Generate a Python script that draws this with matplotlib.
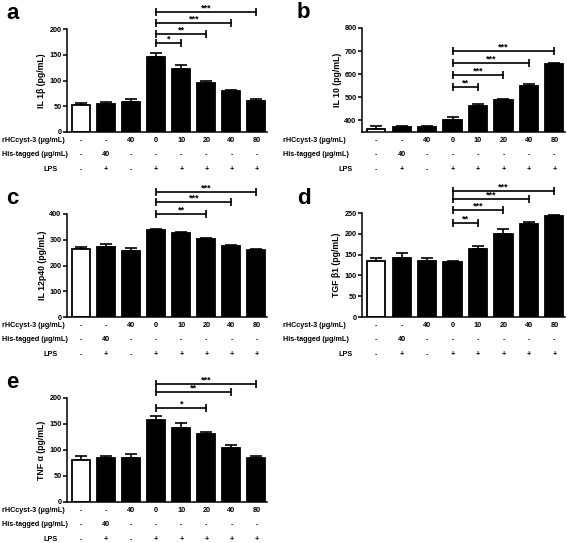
import numpy as np
import matplotlib
matplotlib.use('Agg')
import matplotlib.pyplot as plt

plt.rcParams['font.family'] = ['Liberation Sans', 'DejaVu Sans']
plt.rcParams['font.weight'] = 'bold'

# groups (8 bars per panel)
rhc_row = ['-', '-', '40', '0', '10', '20', '40', '80']
his_row = ['-', '40', '-', '-', '-', '-', '-', '-']
lps_row = ['-', '+', '-', '+', '+', '+', '+', '+']
row_names = ['rHCcyst-3 (\u00b5g/mL)', 'His-tagged (\u00b5g/mL)', 'LPS']

il1b = [52, 54, 59, 145, 123, 96, 79, 60]
il1b_err = [5, 4, 5, 9, 7, 4, 3, 4]
il10 = [362, 370, 370, 400, 462, 487, 548, 645]
il10_err = [12, 5, 5, 13, 8, 5, 8, 5]
il12 = [265, 273, 257, 338, 325, 302, 277, 262]
il12_err = [7, 9, 12, 5, 4, 4, 3, 4]
tgfb = [135, 143, 134, 132, 163, 200, 224, 243]
tgfb_err = [8, 10, 7, 3, 8, 12, 4, 3]
tnfa = [81, 85, 85, 157, 143, 131, 104, 85]
tnfa_err = [7, 4, 8, 9, 9, 4, 5, 3]

# significance brackets: (end index, y level, stars), all start at bar 3
sig_a = [(4, 173, '*'), (5, 190, '**'), (6, 212, '***'), (7, 233, '***')]
sig_b = [(4, 543, '**'), (5, 596, '***'), (6, 650, '***'), (7, 700, '***')]
sig_c = [(5, 400, '**'), (6, 447, '***'), (7, 486, '***')]
sig_d = [(4, 226, '**'), (5, 257, '***'), (6, 284, '***'), (7, 303, '***')]
sig_e = [(5, 181, '*'), (6, 212, '**'), (7, 227, '***')]

W, H = 567, 543
fig = plt.figure(figsize=(W / 100, H / 100), dpi=100)


def px_axes(x0, y0, x1, y1):
    return fig.add_axes([x0 / W, 1 - y1 / H, (x1 - x0) / W, (y1 - y0) / H])


def panel(ax, vals, errs, ylabel, ylim, yticks, sigs, letter, letter_xy, label_dx):
    x = np.arange(len(vals))
    colors = ['white'] + ['black'] * (len(vals) - 1)
    ax.errorbar(x, vals, yerr=[np.zeros(len(vals)), errs], fmt='none', ecolor='black',
                elinewidth=1.2, capsize=4.2, capthick=1.2, zorder=1)
    ax.bar(x, vals, width=0.72, color=colors, edgecolor='black', linewidth=1.3, zorder=2)
    ax.set_xlim(-0.56, 7.42)
    ax.set_ylim(*ylim)
    ax.set_yticks(yticks)
    ax.set_xticks([])
    ax.spines['top'].set_visible(False)
    ax.spines['right'].set_visible(False)
    ax.spines['left'].set_linewidth(1.1)
    ax.spines['bottom'].set_linewidth(1.1)
    ax.tick_params(axis='y', labelsize=5.2, length=3, width=1.1, pad=1)
    ax.set_ylabel(ylabel, fontsize=6.3, fontweight='bold', labelpad=2)

    for j, lev, stars in sigs:
        ax.plot([3, j], [lev, lev], color='black', lw=1.2, clip_on=False,
                marker='|', markersize=6, markeredgewidth=1.2)
        ax.annotate(stars, ((3 + j) / 2, lev), xytext=(0, -0.3), textcoords='offset points',
                    ha='center', va='bottom', fontsize=6.5, annotation_clip=False)

    # table under the axis
    for r, row in enumerate([rhc_row, his_row, lps_row]):
        dy = -(6 + 10.5 * r)
        for xi, s in enumerate(row):
            ax.annotate(s, (xi, 0), xycoords=('data', 'axes fraction'), xytext=(0, dy),
                        textcoords='offset points', ha='center', va='center', fontsize=5.2,
                        annotation_clip=False)
        if r < 2:
            ax.annotate(row_names[r], (0, 0), xycoords='axes fraction', xytext=(label_dx, dy),
                        textcoords='offset points', ha='left', va='center', fontsize=5.2,
                        annotation_clip=False)
        else:
            ax.annotate(row_names[r], (0, 0), xycoords='axes fraction', xytext=(-11.5, dy),
                        textcoords='offset points', ha='center', va='center', fontsize=5.2,
                        annotation_clip=False)

    fig.text(letter_xy[0] / W, 1 - letter_xy[1] / H, letter, fontsize=16,
             fontweight='bold', ha='left', va='baseline')


ax_a = px_axes(67, 29, 267, 132)
panel(ax_a, il1b, il1b_err, 'IL 1\u03b2 (pg/mL)', (0, 200), range(0, 201, 50),
      sig_a, 'a', (6, 19), -46.5)

ax_b = px_axes(362, 28, 565, 132)
panel(ax_b, il10, il10_err, 'IL 10 (pg/mL)', (350, 800), range(400, 801, 100),
      sig_b, 'b', (297, 18), -57)

ax_c = px_axes(67, 214, 267, 317)
panel(ax_c, il12, il12_err, 'IL 12p40 (pg/mL)', (0, 400), range(0, 401, 100),
      sig_c, 'c', (6, 204), -46.5)

ax_d = px_axes(362, 213, 565, 317)
panel(ax_d, tgfb, tgfb_err, 'TGF \u03b21 (pg/mL)', (0, 250), range(0, 251, 50),
      sig_d, 'd', (297, 204), -57)

ax_e = px_axes(67, 398, 267, 502)
panel(ax_e, tnfa, tnfa_err, 'TNF \u03b1 (pg/mL)', (0, 200), range(0, 201, 50),
      sig_e, 'e', (6, 388), -46.5)

fig.savefig('out.png', dpi=100)
